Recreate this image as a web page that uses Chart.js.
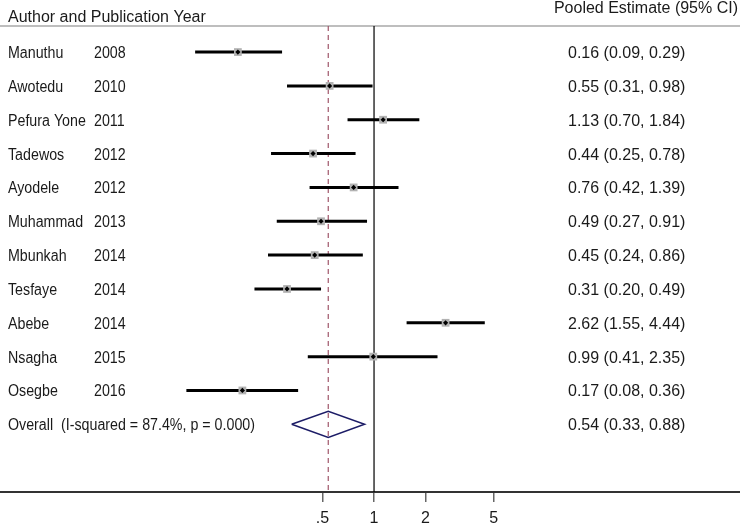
<!DOCTYPE html>
<html>
<head>
<meta charset="utf-8">
<script src="https://cdn.jsdelivr.net/npm/chart.js@4/dist/chart.umd.min.js"></script>
<style>
  html, body { margin: 0; padding: 0; background: #fff; }
  #wrap { width: 740px; height: 523px; }
</style>
</head>
<body>
<div id="wrap"><canvas id="c" width="740" height="523"></canvas></div>
<script>
// ---- data ----
const authors = ['Manuthu', 'Awotedu', 'Pefura Yone', 'Tadewos', 'Ayodele', 'Muhammad', 'Mbunkah', 'Tesfaye', 'Abebe', 'Nsagha', 'Osegbe'];
const years = ['2008', '2010', '2011', '2012', '2012', '2013', '2014', '2014', '2014', '2015', '2016'];
const estimates = [0.16, 0.55, 1.13, 0.44, 0.76, 0.49, 0.45, 0.31, 2.62, 0.99, 0.17];
const lowerCI = [0.09, 0.31, 0.70, 0.25, 0.42, 0.27, 0.24, 0.20, 1.55, 0.41, 0.08];
const upperCI = [0.29, 0.98, 1.84, 0.78, 1.39, 0.91, 0.86, 0.49, 4.44, 2.35, 0.36];
const overallLabel = 'Overall  (I-squared = 87.4%, p = 0.000)';
const overallEst = 0.54;
const overallLo = 0.33;
const overallHi = 0.88;
const tickValues = [0.5, 1, 2, 5];
const tickLabels = ['.5', '1', '2', '5'];
const headerLeft = 'Author and Publication Year';
const headerRight = 'Pooled Estimate (95% CI)';

// ---- layout helpers ----
const X_MIN = 0.00651, X_MAX = 137.8;
const Y_MIN = -0.77, Y_MAX = 13.0;
const overallRow = authors.length;
const diamondHalf = 0.385;
const fmt = v => v.toFixed(2);

const ciData = [];
authors.forEach((a, i) => {
  ciData.push({x: lowerCI[i], y: i});
  ciData.push({x: upperCI[i], y: i});
  ciData.push({x: upperCI[i], y: null});
});
const pointData = estimates.map((e, i) => ({x: e, y: i}));
const diamondData = [
  {x: overallLo, y: overallRow},
  {x: overallEst, y: overallRow - diamondHalf},
  {x: overallHi, y: overallRow},
  {x: overallEst, y: overallRow + diamondHalf},
  {x: overallLo, y: overallRow}
];

const FONT = '16px "Liberation Sans", Arial, sans-serif';
const NARROW = 0.89;
function narrowText(ctx, txt, x, y) {
  ctx.save();
  ctx.translate(x, y);
  ctx.scale(NARROW, 1);
  ctx.fillText(txt, 0, 0);
  ctx.restore();
}
const textPlugin = {
  id: 'forestText',
  beforeDatasetsDraw(chart) {
    const {ctx, chartArea} = chart;
    ctx.save();
    ctx.strokeStyle = '#a8a8a8';
    ctx.lineWidth = 1.5;
    ctx.beginPath();
    ctx.moveTo(0, chartArea.top);
    ctx.lineTo(chart.width, chartArea.top);
    ctx.stroke();
    ctx.restore();
  },
  afterDraw(chart) {
    const {ctx, scales} = chart;
    const y = scales.y;
    ctx.save();
    ctx.font = FONT;
    ctx.fillStyle = '#1a1a1a';
    ctx.textBaseline = 'alphabetic';
    ctx.textAlign = 'left';
    ctx.fillText(headerLeft, 8, 22);
    ctx.textAlign = 'right';
    ctx.fillText(headerRight, 738, 13);
    ctx.textAlign = 'left';
    authors.forEach((a, i) => {
      const py = y.getPixelForValue(i) + 6;
      narrowText(ctx, a, 8, py);
      narrowText(ctx, years[i], 94, py);
      ctx.fillText(fmt(estimates[i]) + ' (' + fmt(lowerCI[i]) + ', ' + fmt(upperCI[i]) + ')', 568, py);
    });
    const oy = y.getPixelForValue(overallRow) + 6;
    narrowText(ctx, overallLabel, 8, oy);
    ctx.fillText(fmt(overallEst) + ' (' + fmt(overallLo) + ', ' + fmt(overallHi) + ')', 568, oy);
    ctx.restore();
  }
};

new Chart(document.getElementById('c'), {
  type: 'scatter',
  data: {
    datasets: [
      { // center markers
        data: pointData, order: 0,
        pointStyle: 'rectRot', pointRadius: 2.6, pointHoverRadius: 2.6,
        backgroundColor: '#000', borderColor: '#000', borderWidth: 0
      },
      { // weight boxes
        data: pointData, order: 1,
        pointStyle: 'rect', pointRadius: 5.5, pointHoverRadius: 5.5,
        backgroundColor: '#b2b2b2', borderColor: '#b2b2b2', borderWidth: 0
      },
      { // CI lines
        data: ciData, order: 2, showLine: true, spanGaps: false,
        borderColor: '#000', borderWidth: 3, pointRadius: 0, pointHoverRadius: 0
      },
      { // overall diamond
        data: diamondData, order: 3, showLine: true,
        borderColor: '#1c1c66', borderWidth: 1.5, pointRadius: 0, pointHoverRadius: 0, tension: 0
      },
      { // null line
        data: [{x: 1, y: Y_MIN}, {x: 1, y: Y_MAX}], order: 4, showLine: true,
        borderColor: '#000', borderWidth: 1.2, pointRadius: 0, pointHoverRadius: 0
      },
      { // overall estimate dashed line
        data: [{x: overallEst, y: Y_MIN}, {x: overallEst, y: Y_MAX}], order: 5, showLine: true,
        borderColor: '#a0566a', borderWidth: 1.2, borderDash: [5, 4], pointRadius: 0, pointHoverRadius: 0
      }
    ]
  },
  options: {
    responsive: false,
    animation: false,
    devicePixelRatio: 1,
    layout: { autoPadding: false, padding: {top: 26, left: 0, right: 0, bottom: 0} },
    plugins: { legend: {display: false}, tooltip: {enabled: false} },
    events: [],
    scales: {
      x: {
        type: 'logarithmic',
        position: 'bottom',
        min: X_MIN, max: X_MAX,
        afterBuildTicks: s => { s.ticks = tickValues.map(v => ({value: v})); },
        afterFit: s => { s.height = 31; s.paddingLeft = 0; s.paddingRight = 0; },
        grid: { drawOnChartArea: false, drawTicks: true, tickLength: 10, color: '#666', lineWidth: 1.5 },
        border: { display: true, color: '#333', width: 2 },
        ticks: {
          autoSkip: false, maxRotation: 0, padding: 7,
          color: '#1a1a1a',
          font: { family: '"Liberation Sans", Arial, sans-serif', size: 16 },
          callback: (v, i) => tickLabels[i]
        }
      },
      y: {
        type: 'linear', display: false, reverse: true,
        min: Y_MIN, max: Y_MAX
      }
    }
  },
  plugins: [textPlugin]
});
</script>
</body>
</html>
